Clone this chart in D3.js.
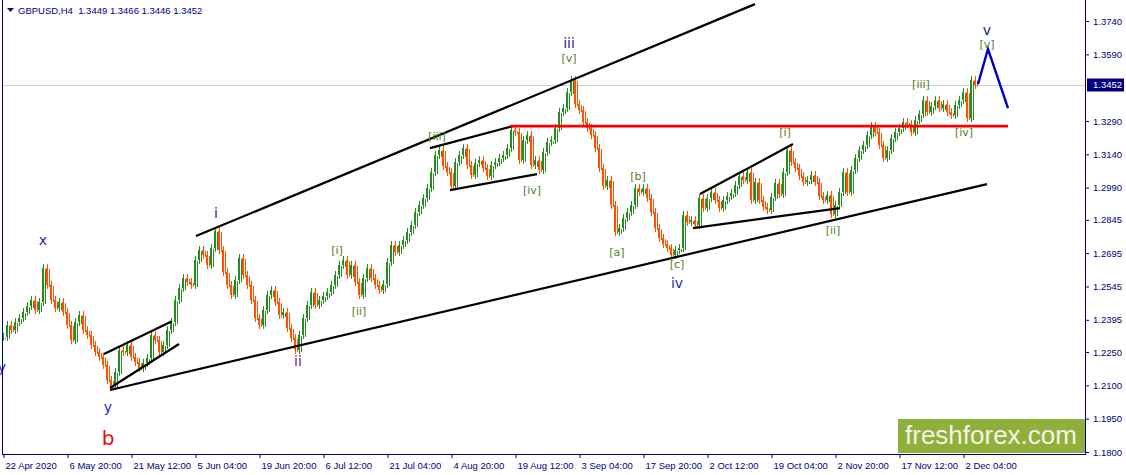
<!DOCTYPE html>
<html><head><meta charset="utf-8">
<script src="https://cdn.jsdelivr.net/npm/d3@7"></script>
<style>body{margin:0;background:#fff;overflow:hidden}svg{display:block}</style>
</head><body>
<svg id="c" width="1126" height="475"></svg>
<script>
// ---- data ----
const symbol = "GBPUSD,H4";
const lastOHLC = ["1.3449","1.3466","1.3446","1.3452"];
const lastPrice = 1.3452;
const barStep = 4; // each stored close = 4 H4 bars
const closes = [
1.2318,1.2372,1.2349,1.2385,1.2403,1.2430,1.2457,1.2484,1.2439,1.2475,
1.2628,1.2552,1.2484,1.2448,1.2475,1.2430,1.2372,1.2304,1.2385,1.2417,
1.2349,1.2327,1.2282,1.2250,1.2228,1.2192,1.2124,1.2097,1.2160,1.2259,
1.2250,1.2282,1.2228,1.2205,1.2178,1.2201,1.2223,1.2327,1.2304,1.2250,
1.2282,1.2349,1.2385,1.2484,1.2538,1.2583,1.2565,1.2552,1.2664,1.2709,
1.2687,1.2642,1.2718,1.2795,1.2709,1.2610,1.2552,1.2507,1.2574,1.2673,
1.2597,1.2552,1.2484,1.2403,1.2372,1.2439,1.2507,1.2529,1.2475,1.2417,
1.2430,1.2358,1.2313,1.2259,1.2327,1.2403,1.2462,1.2520,1.2462,1.2484,
1.2502,1.2520,1.2552,1.2597,1.2642,1.2664,1.2597,1.2642,1.2565,1.2507,
1.2583,1.2628,1.2583,1.2552,1.2529,1.2556,1.2655,1.2732,1.2700,1.2732,
1.2754,1.2790,1.2822,1.2880,1.2912,1.2943,1.2988,1.3060,1.3137,1.3159,
1.3087,1.3060,1.2997,1.3105,1.3137,1.3168,1.3092,1.3047,1.3101,1.3114,
1.3078,1.3042,1.3092,1.3105,1.3123,1.3137,1.3168,1.3249,1.3240,1.3114,
1.3204,1.3226,1.3092,1.3114,1.3069,1.3150,1.3195,1.3204,1.3258,1.3330,
1.3348,1.3420,1.3474,1.3366,1.3339,1.3285,1.3258,1.3226,1.3168,1.3078,
1.2997,1.3024,1.2912,1.2790,1.2808,1.2853,1.2880,1.2912,1.2988,1.2970,
1.2988,1.2943,1.2880,1.2808,1.2763,1.2736,1.2718,1.2687,1.2709,1.2718,
1.2867,1.2835,1.2844,1.2822,1.2943,1.2898,1.2943,1.2970,1.2934,1.2898,
1.2934,1.2952,1.2966,1.3002,1.3042,1.3024,1.3060,1.2934,1.3015,1.2934,
1.2903,1.2889,1.2948,1.3011,1.2961,1.3060,1.3159,1.3105,1.3078,1.3042,
1.3015,1.3024,1.3047,1.3015,1.2952,1.2934,1.2957,1.2871,1.2912,1.2970,
1.3060,1.2970,1.3069,1.3123,1.3159,1.3182,1.3226,1.3267,1.3240,1.3182,
1.3123,1.3159,1.3213,1.3240,1.3258,1.3285,1.3276,1.3240,1.3294,1.3321,
1.3384,1.3330,1.3357,1.3384,1.3348,1.3366,1.3330,1.3317,1.3362,1.3384,
1.3420,1.3303,1.3474,1.3452
];
const xTickBars = [0,64,128,192,256,320,384,448,512,576,640,704,768,832,896,960];
const xTickLabels = ["22 Apr 2020","6 May 20:00","21 May 12:00","5 Jun 04:00","19 Jun 20:00","6 Jul 12:00","21 Jul 04:00","4 Aug 20:00","19 Aug 12:00","3 Sep 04:00","17 Sep 20:00","2 Oct 12:00","19 Oct 04:00","2 Nov 20:00","17 Nov 12:00","2 Dec 04:00"];
const yTickValues = [1.374,1.359,1.329,1.314,1.299,1.2845,1.2695,1.2545,1.2395,1.225,1.21,1.195,1.18];
const yTickLabels = ["1.3740","1.3590","1.3290","1.3140","1.2990","1.2845","1.2695","1.2545","1.2395","1.2250","1.2100","1.1950","1.1800"];
// trendlines: [bar, price] pairs
const blackLines = [
  [[193,1.2772],[752,1.3816]],
  [[107,1.2079],[984,1.3006]],
  [[101,1.2241],[169,1.2389]],
  [[107,1.2088],[176,1.2286]],
  [[427,1.3168],[510,1.3267]],
  [[447,1.2979],[534,1.3051]],
  [[697,1.2961],[790,1.3186]],
  [[690,1.2808],[837,1.2898]]
];
const redLine = [[507,1.3267],[1005,1.3267]];
const blueLine = [[975,1.3456],[985,1.3614],[1005,1.3348]];
const waveLabels = [
  {t:"x",bar:40,p:1.2754,c:"#2323c0",s:14},
  {t:"y",bar:-1,p:1.2183,c:"#2323c0",s:14},
  {t:"y",bar:105,p:1.2003,c:"#2323c0",s:14},
  {t:"b",bar:105,p:1.1863,c:"#e01010",s:20},
  {t:"i",bar:213,p:1.2875,c:"#1f2a9a",s:14},
  {t:"ii",bar:295,p:1.2210,c:"#6a1b9a",s:14},
  {t:"[i]",bar:334,p:1.2709,c:"#4f7f1f",s:11},
  {t:"[ii]",bar:356,p:1.2434,c:"#4f7f1f",s:11},
  {t:"[iii]",bar:434,p:1.3218,c:"#4f7f1f",s:11},
  {t:"[iv]",bar:529,p:1.2979,c:"#4f7f1f",s:11},
  {t:"iii",bar:566,p:1.3641,c:"#2a2a9a",s:14},
  {t:"[v]",bar:566,p:1.3573,c:"#4f7f1f",s:11},
  {t:"[a]",bar:614,p:1.2696,c:"#4f7f1f",s:11},
  {t:"[b]",bar:635,p:1.3038,c:"#4f7f1f",s:11},
  {t:"[c]",bar:674,p:1.2642,c:"#4f7f1f",s:11},
  {t:"iv",bar:674,p:1.2561,c:"#2233bb",s:14},
  {t:"[i]",bar:782,p:1.3240,c:"#4f7f1f",s:11},
  {t:"[ii]",bar:830,p:1.2799,c:"#4f7f1f",s:11},
  {t:"[iii]",bar:918,p:1.3456,c:"#4f7f1f",s:11},
  {t:"[iv]",bar:961,p:1.3240,c:"#4f7f1f",s:11},
  {t:"v",bar:984,p:1.3699,c:"#23237a",s:14},
  {t:"[v]",bar:984,p:1.3636,c:"#4f7f1f",s:11}
];

// ---- drawing ----
const svg = d3.select("#c");
const navy = "#000080";
const x = d3.scaleLinear().domain([0,1082]).range([3,1085]);
const y = d3.scaleLinear().domain([1.18,1.374]).range([452,21]);
const FONT = "'Liberation Sans', Arial, sans-serif";

// current price line
svg.append("line").attr("x1",3).attr("x2",1085).attr("y1",Math.round(y(lastPrice))+0.5).attr("y2",Math.round(y(lastPrice))+0.5)
  .attr("stroke","#d0d0d0").attr("stroke-width",1);

// candles
const up = "#2a8a22", dn = "#ff5200";
const g = svg.append("g");
closes.forEach((c,k)=>{
  const o = k>0 ? closes[k-1] : c;
  const cx = Math.round(x(k*barStep));
  const top = y(Math.max(o,c)), bot = y(Math.min(o,c));
  const col = c>=o ? up : dn;
  g.append("line").attr("x1",cx+0.5).attr("x2",cx+0.5).attr("y1",top-4).attr("y2",bot+4)
    .attr("stroke",col).attr("stroke-width",1);
  g.append("rect").attr("x",cx-1).attr("width",2).attr("y",top).attr("height",Math.max(1,bot-top)).attr("fill",col);
  g.append("line").attr("x1",cx+2.5).attr("x2",cx+2.5).attr("y1",top+1).attr("y2",bot+2)
    .attr("stroke",col).attr("stroke-width",1);
});

const lineGen = d3.line().x(d=>x(d[0])).y(d=>y(d[1]));
blackLines.forEach(l=>svg.append("path").attr("d",lineGen(l)).attr("stroke","#000").attr("stroke-width",2.2).attr("fill","none"));
svg.append("path").attr("d",lineGen(redLine)).attr("stroke","#ff0000").attr("stroke-width",2.6).attr("fill","none");
svg.append("path").attr("d",lineGen(blueLine)).attr("stroke","#0000c0").attr("stroke-width",2.4).attr("fill","none");

// wave labels
waveLabels.forEach(d=>{
  svg.append("text").attr("x",x(d.bar)).attr("y",y(d.p)).attr("text-anchor","middle").attr("dominant-baseline","central")
    .attr("font-family","'DejaVu Sans', sans-serif").attr("font-size",d.s).attr("fill",d.c).text(d.t);
});

// watermark
svg.append("rect").attr("x",898).attr("y",419).attr("width",187).attr("height",34).attr("fill","#8fb03a");
svg.append("text").attr("x",991).attr("y",444).attr("text-anchor","middle").attr("font-family",FONT)
  .attr("font-size",26).attr("fill","#f3f6e6").text("freshforex.com");

// axes
const xAxis = d3.axisBottom(x).tickValues(xTickBars).tickFormat((d,i)=>xTickLabels[i]).tickSize(4).tickSizeOuter(0);
const gx = svg.append("g").attr("transform","translate(0,454)").call(xAxis);
gx.select(".domain").remove();
gx.selectAll("line").attr("stroke",navy).attr("transform","translate(0.5,0)");
gx.selectAll("text").attr("text-anchor","start").attr("dx",2).attr("y",8).attr("fill",navy)
  .attr("font-family",FONT).attr("font-size",9.5);

const yAxis = d3.axisRight(y).tickValues(yTickValues).tickFormat((d,i)=>yTickLabels[i]).tickSize(4).tickSizeOuter(0);
const gy = svg.append("g").attr("transform","translate(1085,0)").call(yAxis);
gy.select(".domain").remove();
gy.selectAll("line").attr("stroke",navy);
gy.selectAll("text").attr("x",8).attr("fill",navy).attr("font-family",FONT).attr("font-size",9.5);

// frame
svg.append("line").attr("x1",2.5).attr("x2",2.5).attr("y1",0).attr("y2",455).attr("stroke",navy);
svg.append("line").attr("x1",2.5).attr("x2",1085.5).attr("y1",454.5).attr("y2",454.5).attr("stroke",navy);
svg.append("line").attr("x1",1085.5).attr("x2",1085.5).attr("y1",0).attr("y2",455).attr("stroke",navy);

// current price box
const py = y(lastPrice);
svg.append("rect").attr("x",1087).attr("y",py-6.5).attr("width",37).attr("height",13).attr("fill",navy);
svg.append("text").attr("x",1093).attr("y",py).attr("dominant-baseline","central").attr("fill","#fff")
  .attr("font-family",FONT).attr("font-size",9.5).text(lastPrice.toFixed(4));

// title
svg.append("path").attr("d","M7,8 L14,8 L10.5,12 Z").attr("fill",navy);
svg.append("text").attr("x",18).attr("y",14).attr("fill",navy).attr("font-family",FONT).attr("font-size",9.5)
  .attr("xml:space","preserve").text(symbol+"  "+lastOHLC.join(" "));
</script>
</body></html>
